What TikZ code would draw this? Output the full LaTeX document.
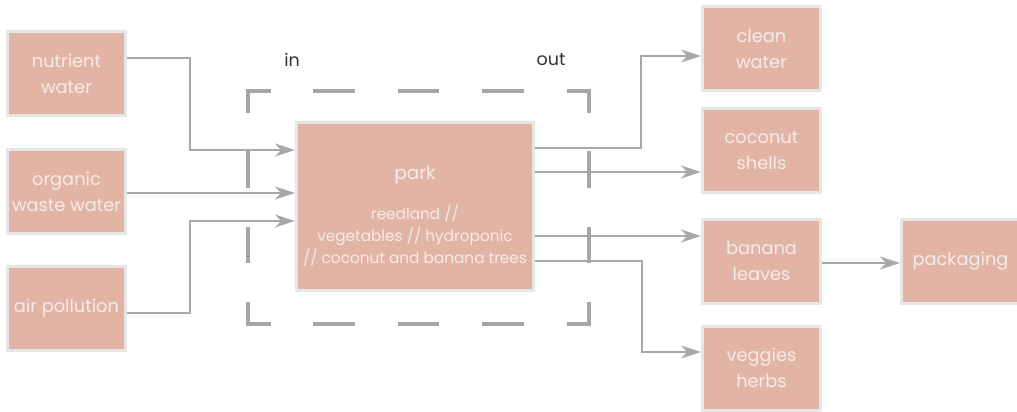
\documentclass[tikz,border=0pt]{standalone}
\usepackage{fontspec}
\setmainfont{Poppins}
\usetikzlibrary{arrows.meta}
\definecolor{boxfill}{HTML}{E2B4A6}
\definecolor{boxline}{HTML}{E6E6E6}
\definecolor{boxtext}{HTML}{F6EBE7}
\definecolor{con}{HTML}{A8A8A8}
\definecolor{dash}{HTML}{A6A6A6}
\definecolor{lab}{HTML}{333333}
\tikzset{
  box/.style={draw=boxline, fill=boxfill, line width=3pt, inner sep=0pt,
    minimum width=118pt, minimum height=84pt, align=center, text=boxtext,
    font=\fontsize{17.8}{26}\selectfont},
  arr/.style={draw=con, line width=1.8pt,
    -{Stealth[length=20pt,width=13pt,inset=6pt]}},
  frame/.style={draw=dash, line width=3.5pt, line cap=butt, line join=miter},
  lbl/.style={text=lab, font=\fontsize{17.5}{20}\selectfont, inner sep=0pt}
}
\begin{document}
\begin{tikzpicture}[x=1pt,y=-1pt]
\useasboundingbox (0,0) rectangle (1017,412);
% dashed frame
\draw[frame] (248,113) -- (248,91) -- (271,91);
\draw[frame] (567,91) -- (589,91) -- (589,113);
\draw[frame] (248,302) -- (248,324) -- (271,324);
\draw[frame] (567,324) -- (589,324) -- (589,302);
\foreach \a/\b in {313/355,398/439,482/524}{
  \draw[frame] (\a,91) -- (\b,91);
  \draw[frame] (\a,324) -- (\b,324);}
\foreach \a/\b in {151/188,227/263}{
  \draw[frame] (248,\a) -- (248,\b);
  \draw[frame] (589,\a) -- (589,\b);}
% labels
\node[lbl] (in) at (292,60) {in};
\node[lbl] (out) at (551,60) {out};
% nodes
\node[box] (nw) at (66.5,73.5) {nutrient\\water};
\node[box] (ow) at (66.5,191.5) {organic\\waste water};
\node[box] (ap) at (66.5,308.5) {air pollution};
\node[box, minimum width=237pt, minimum height=168pt] (park) at (415,206.5) {};
\node[text=boxtext, font=\fontsize{18.5}{20}\selectfont, inner sep=0pt] (parkt) at (415,175) {park};
\node[text=boxtext, font=\fontsize{15.3}{22}\selectfont, align=center, inner sep=0pt] (parks) at (415,236) {reedland //\\vegetables // hydroponic\\// coconut and banana trees};
\node[box] (cw) at (761.5,48.5) {clean\\water};
\node[box] (cs) at (761.5,150) {coconut\\shells};
\node[box] (bl) at (761.5,261) {banana\\leaves};
\node[box] (vh) at (761.5,368) {veggies\\herbs};
\node[box] (pk) at (960.5,261) {packaging};
% inputs
\draw[arr] (nw.east |- 0,58) -| (190,150) -- (park.west |- 0,150);
\draw[arr] (ow.east |- 0,193) -- (park.west |- 0,193);
\draw[arr] (ap.east |- 0,313) -| (190,221) -- (park.west |- 0,221);
% outputs
\draw[arr] (park.east |- 0,148) -| (641,56) -- (cw.west |- 0,56);
\draw[arr] (park.east |- 0,172) -- (cs.west |- 0,172);
\draw[arr] (park.east |- 0,236) -- (bl.west |- 0,236);
\draw[arr] (park.east |- 0,261) -| (642,352) -- (vh.west |- 0,352);
\draw[arr] (bl.east |- 0,263) -- (pk.west |- 0,263);
\end{tikzpicture}
\end{document}
